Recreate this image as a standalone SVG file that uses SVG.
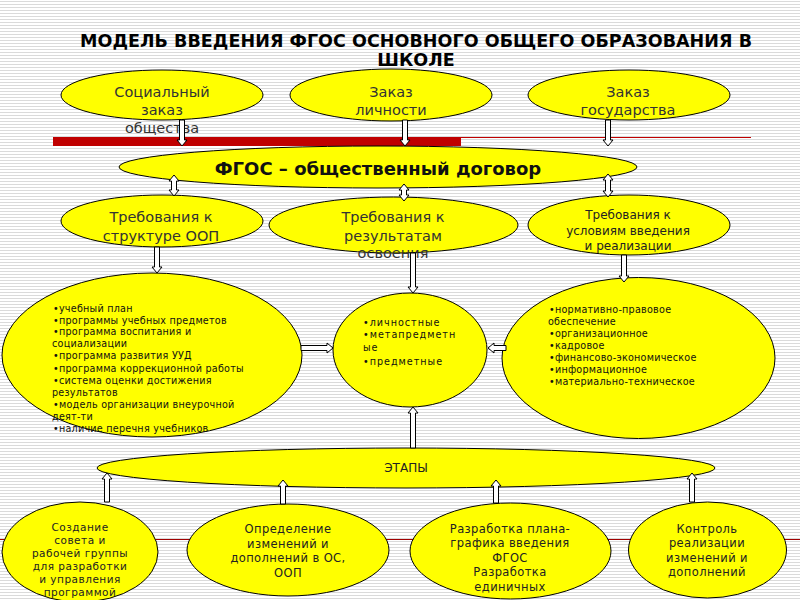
<svg xmlns="http://www.w3.org/2000/svg" width="800" height="600" viewBox="0 0 800 600">
<defs>
<pattern id="stripes" width="8" height="3" patternUnits="userSpaceOnUse">
<rect width="8" height="3" fill="#ffffff"/>
<rect y="1" width="8" height="1" fill="#dadada"/>
</pattern>
<style>
.node{fill:#ffff00;stroke:#000;stroke-width:1}
.arr{fill:#fff;stroke:#000;stroke-width:1}
.title{font-family:"DejaVu Sans",sans-serif;font-weight:bold;font-size:17.5px;fill:#000;text-anchor:middle}
.t15{font-family:"DejaVu Sans",sans-serif;font-size:14.5px;fill:#333;text-anchor:middle}
.t12{font-family:"DejaVu Sans",sans-serif;font-size:12px;fill:#222;text-anchor:middle}
.tb{font-family:"DejaVu Sans",sans-serif;font-size:11.5px;fill:#222;text-anchor:middle;letter-spacing:0.4px}
.ts{font-family:"DejaVu Sans",sans-serif;font-size:10.5px;fill:#222;text-anchor:middle;letter-spacing:0.5px}
.li{font-family:"DejaVu Sans",sans-serif;font-size:9.6px;fill:#111;letter-spacing:0.25px}
.lm{font-family:"DejaVu Sans",sans-serif;font-size:9.6px;fill:#111;letter-spacing:1px}
</style>
</defs>
<rect width="800" height="600" fill="url(#stripes)"/>

<text class="title" x="416" y="47" textLength="672" lengthAdjust="spacing">МОДЕЛЬ ВВЕДЕНИЯ ФГОС ОСНОВНОГО ОБЩЕГО ОБРАЗОВАНИЯ В</text>
<text class="title" x="416" y="66">ШКОЛЕ</text>

<g id="bars">
<rect x="53" y="137" width="408" height="9" fill="#c00000"/>
<line x1="461" y1="137.5" x2="751" y2="137.5" stroke="#c00000" stroke-width="1"/>
<line x1="0" y1="539.5" x2="800" y2="539.5" stroke="#a00000" stroke-width="1"/>
</g>

<g id="social">
<ellipse class="node" cx="162" cy="95" rx="101" ry="25"/>
<text class="t15" x="162" y="97">Социальный</text>
<text class="t15" x="162" y="115">заказ</text>
<text class="t15" x="162" y="133">общества</text>
</g>
<g id="personal">
<ellipse class="node" cx="391" cy="95" rx="101" ry="26"/>
<text class="t15" x="391" y="97">Заказ</text>
<text class="t15" x="391" y="115">личности</text>
</g>
<g id="state">
<ellipse class="node" cx="629" cy="95" rx="101" ry="25"/>
<text class="t15" x="628" y="97">Заказ</text>
<text class="t15" x="628" y="115">государства</text>
</g>

<g id="fgos">
<ellipse class="node" cx="378" cy="167" rx="259" ry="21"/>
<text x="378" y="175" font-family="DejaVu Sans, sans-serif" font-weight="bold" font-size="18" fill="#111" text-anchor="middle">ФГОС – общественный договор</text>
</g>

<g id="req-structure">
<ellipse class="node" cx="162" cy="221" rx="101" ry="26"/>
<text class="t15" x="161" y="222">Требования к</text>
<text class="t15" x="161" y="241">структуре ООП</text>
</g>
<g id="req-results">
<ellipse class="node" cx="393.5" cy="225" rx="124.5" ry="28"/>
<text class="t15" x="393" y="222">Требования к</text>
<text class="t15" x="393" y="241">результатам</text>
<text class="t15" x="393" y="258">освоения</text>
</g>
<g id="req-conditions">
<ellipse class="node" cx="629" cy="225" rx="101" ry="30"/>
<text class="t12" x="628" y="219">Требования к</text>
<text class="t12" x="628" y="235">условиям введения</text>
<text class="t12" x="628" y="250">и реализации</text>
</g>

<g id="oop-list">
<ellipse class="node" cx="152" cy="355" rx="150" ry="82"/>
<text class="li" x="53" y="312">•учебный план</text>
<text class="li" x="53" y="324">•программы учебных предметов</text>
<text class="li" x="53" y="335">•программа воспитания и</text>
<text class="li" x="52" y="347">социализации</text>
<text class="li" x="53" y="359">•программа развития УУД</text>
<text class="li" x="53" y="372">•программа коррекционной работы</text>
<text class="li" x="53" y="384">•система оценки достижения</text>
<text class="li" x="52" y="396">результатов</text>
<text class="li" x="53" y="408">•модель организации внеурочной</text>
<text class="li" x="52" y="420">деят-ти</text>
<text class="li" x="53" y="432">•наличие перечня учебников</text>
</g>
<g id="results-list">
<ellipse class="node" cx="410" cy="350" rx="77" ry="57"/>
<text class="lm" x="363" y="326">•личностные</text>
<text class="lm" x="363" y="338">•метапредметн</text>
<text class="lm" x="363" y="351">ые</text>
<text class="lm" x="363" y="365">•предметные</text>
</g>
<g id="conditions-list">
<ellipse class="node" cx="638.5" cy="358" rx="136.5" ry="80.5"/>
<text class="li" x="549" y="313">•нормативно-правовое</text>
<text class="li" x="548" y="325">обеспечение</text>
<text class="li" x="549" y="337">•организационное</text>
<text class="li" x="549" y="349">•кадровое</text>
<text class="li" x="549" y="361">•финансово-экономическое</text>
<text class="li" x="549" y="373">•информационное</text>
<text class="li" x="549" y="385">•материально-техническое</text>
</g>

<g id="stages">
<ellipse class="node" cx="406" cy="468" rx="309" ry="20"/>
<text x="406" y="472" font-family="DejaVu Sans, sans-serif" font-size="12" fill="#222" text-anchor="middle">ЭТАПЫ</text>
</g>

<g id="stage1">
<ellipse class="node" cx="80" cy="552" rx="78" ry="50"/>
<text class="ts" x="80" y="531">Создание</text>
<text class="ts" x="80" y="544">совета и</text>
<text class="ts" x="80" y="557">рабочей группы</text>
<text class="ts" x="80" y="570">для разработки</text>
<text class="ts" x="80" y="583">и управления</text>
<text class="ts" x="80" y="596">программой</text>
</g>
<g id="stage2">
<ellipse class="node" cx="288" cy="550" rx="101" ry="46"/>
<text class="tb" x="288" y="533">Определение</text>
<text class="tb" x="288" y="548">изменений и</text>
<text class="tb" x="288" y="562">дополнений в ОС,</text>
<text class="tb" x="288" y="577">ООП</text>
</g>
<g id="stage3">
<ellipse class="node" cx="510.5" cy="551" rx="100.5" ry="48"/>
<text class="tb" x="510" y="533">Разработка плана-</text>
<text class="tb" x="510" y="547">графика введения</text>
<text class="tb" x="510" y="562">ФГОС</text>
<text class="tb" x="510" y="576">Разработка</text>
<text class="tb" x="510" y="591">единичных</text>
</g>
<g id="stage4">
<ellipse class="node" cx="707.5" cy="550" rx="79" ry="48"/>
<text class="tb" x="707" y="533">Контроль</text>
<text class="tb" x="707" y="547">реализации</text>
<text class="tb" x="707" y="562">изменений и</text>
<text class="tb" x="707" y="576">дополнений</text>
</g>

<g id="connectors">
<path class="arr" d="M179.5,120H184.5V140H187L182,146L177,140H179.5Z"/>
<path class="arr" d="M402.5,120H407.5V140H410L405,146L400,140H402.5Z"/>
<path class="arr" d="M605.5,120H610.5V140H613L608,146L603,140H605.5Z"/>
<path class="arr" d="M174,175L179,181H176.5V190H179L174,196L169,190H171.5V181H169Z"/>
<path class="arr" d="M404,184L409,190H406.5V195H409L404,201L399,195H401.5V190H399Z"/>
<path class="arr" d="M608,174L613,180H610.5V191H613L608,197L603,191H605.5V180H603Z"/>
<path class="arr" d="M154.5,247H159.5V267H162L157,273L152,267H154.5Z"/>
<path class="arr" d="M410.5,253H415.5V287H418L413,293L408,287H410.5Z"/>
<path class="arr" d="M621.5,255H626.5V276H629L624,282L619,276H621.5Z"/>
<path class="arr" d="M301,345.5H327V343L333,348L327,353V350.5H301Z"/>
<path class="arr" d="M506,345.5H494V343L488,348L494,353V350.5H506Z"/>
<path class="arr" d="M410.5,448H415.5V413H418L413,407L408,413H410.5Z"/>
<path class="arr" d="M104.5,502H109.5V479H112L107,473L102,479H104.5Z"/>
<path class="arr" d="M280.5,504H285.5V486H288L283,480L278,486H280.5Z"/>
<path class="arr" d="M493.5,503H498.5V486H501L496,480L491,486H493.5Z"/>
<path class="arr" d="M689.5,502H694.5V479H697L692,473L687,479H689.5Z"/>
</g>
</svg>
